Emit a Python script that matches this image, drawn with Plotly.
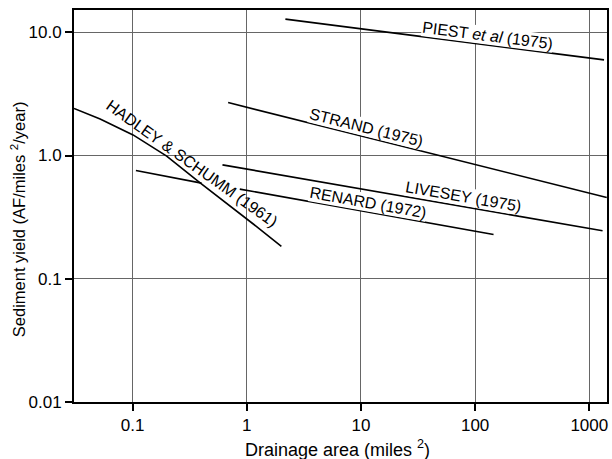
import math
import plotly.graph_objects as go

# Sediment yield relations (drainage area in miles^2, yield in AF/miles^2/year)
hadley_x = [0.0307, 0.052, 0.101, 0.199, 0.388, 0.72, 1.22, 2.01]
hadley_y = [2.41, 1.98, 1.47, 0.99, 0.604, 0.39, 0.265, 0.183]

piest_x = [2.18, 1346]
piest_y = [12.8, 5.97]

strand_x = [0.687, 1422]
strand_y = [2.69, 0.456]

livesey_x = [0.613, 1307]
livesey_y = [0.84, 0.245]

renard_x = [0.107, 0.402, None, 0.869, 145]
renard_y = [0.756, 0.597, None, 0.534, 0.229]

x_ticks = [0.1, 1, 10, 100, 1000]
x_tick_labels = ["0.1", "1", "10", "100", "1000"]
y_ticks = [0.01, 0.1, 1, 10]
y_tick_labels = ["0.01", "0.1", "1.0", "10.0"]

FONT = "Liberation Sans, Arial, Helvetica, sans-serif"

# plot-area geometry in pixels (for placing the axis titles)
L, R, T, B = 74, 609, 10, 402
W, H = 612, 459

fig = go.Figure()
for xs, ys in [(hadley_x, hadley_y), (piest_x, piest_y), (strand_x, strand_y),
               (livesey_x, livesey_y), (renard_x, renard_y)]:
    fig.add_trace(go.Scatter(x=xs, y=ys, mode="lines",
                             line=dict(color="black", width=1.6),
                             showlegend=False, hoverinfo="skip"))

labels = [
    ("PIEST <i>et al</i> (1975)", 2.109, 0.978, 7.3, "white"),
    ("STRAND (1975)", 1.046, 0.225, 14.0, "white"),
    ("LIVESEY (1975)", 1.900, -0.330, 9.8, "white"),
    ("RENARD (1972)", 1.060, -0.379, 10.1, "white"),
    ("HADLEY &amp; SCHUMM (1961)", -0.479, -0.064, 35.5, "rgba(0,0,0,0)"),
]
for text, lx, ly, ang, bg in labels:
    fig.add_annotation(x=lx, y=ly, xref="x", yref="y", text=text,
                       showarrow=False, textangle=ang,
                       font=dict(family=FONT, size=16, color="black"),
                       bgcolor=bg, borderpad=0)

axis_common = dict(
    type="log", showline=True, linecolor="black", linewidth=2, mirror=True,
    ticks="outside", ticklen=7, tickwidth=1.5, tickcolor="black",
    showgrid=True, gridcolor="#666666", gridwidth=1, zeroline=False,
    tickfont=dict(family=FONT, size=17, color="black"),
)

fig.update_xaxes(**axis_common, range=[math.log10(0.0307), 3.155],
                 tickvals=x_ticks, ticktext=x_tick_labels)
fig.update_yaxes(**axis_common, range=[-2, 1.181],
                 tickvals=y_ticks, ticktext=y_tick_labels)

# axis titles as annotations, positioned as in the reference
fig.add_annotation(xref="paper", yref="paper",
                   x=(338 - L) / (R - L), y=(B - 448) / (B - T),
                   text="Drainage area (miles <sup>2</sup>)",
                   showarrow=False, xanchor="center", yanchor="middle",
                   font=dict(family=FONT, size=18, color="black"))
fig.add_annotation(xref="paper", yref="paper",
                   x=(18 - L) / (R - L), y=(B - 219) / (B - T),
                   text="Sediment yield (AF/miles <sup>2</sup>/year)", textangle=-90,
                   showarrow=False, xanchor="center", yanchor="middle",
                   font=dict(family=FONT, size=16.5, color="black"))

fig.update_layout(
    width=W, height=H,
    margin=dict(l=L, r=W - R, t=T, b=H - B),
    paper_bgcolor="white", plot_bgcolor="white",
    font=dict(family=FONT, color="black"),
)

fig.write_html("out.html", config={"displayModeBar": False},
               post_script="document.body.style.margin='0';document.body.style.overflow='hidden';")
